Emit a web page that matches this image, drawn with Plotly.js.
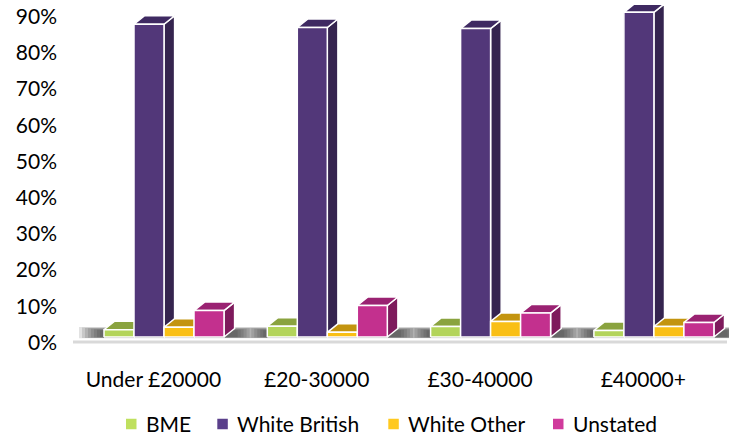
<!DOCTYPE html>
<html>
<head>
<meta charset="utf-8">
<script src="https://cdn.plot.ly/plotly-3.0.1.min.js"></script>
<style>html,body{margin:0;padding:0;background:#fff}#chart{width:731px;height:438px}</style>
</head>
<body>
<div id="chart"></div>
<script>
// ---- data (percent) ----
const categories = ['Under £20000', '£20-30000', '£30-40000', '£40000+'];
const seriesNames = ['BME', 'White British', 'White Other', 'Unstated'];
const bme = [2.0, 3.0, 2.9, 1.8];
const whiteBritish = [86.4, 85.5, 85.2, 89.7];
const whiteOther = [2.7, 1.3, 4.3, 2.9];
const unstated = [7.3, 8.7, 6.6, 4.0];
const yTickVals = [0, 10, 20, 30, 40, 50, 60, 70, 80, 90];
const yTickText = ['0%', '10%', '20%', '30%', '40%', '50%', '60%', '70%', '80%', '90%'];

// ---- styling ----
const frontColors = ['#B3D45A', '#523779', '#F9BF15', '#C3308E'];
const topColors = ['#8AA33F', '#3F2A62', '#C3940F', '#9A2272'];
const sideColors = ['#7C9436', '#35244F', '#A67C0C', '#7E1A5C'];
const legendColors = ['#BFE05E', '#5A3F8B', '#FFC91F', '#D03A9C'];
const FONT = 'Lato, "Open Sans", sans-serif';

// geometry (pixel based constants converted to axis units)
const W_PX = 731, H_PX = 438;
const M = {l: 58, r: 2, t: 5, b: 83};
const plotW = W_PX - M.l - M.r, plotH = H_PX - M.t - M.b;
const PX_PER_CAT = 163.3;      // px per category
const PX_PER_PCT = 3.62;       // px per 1%
const cat0Px = 153.4;          // pixel x of first category
const zeroPx = 345.5;          // pixel y of 0%
const xr0 = (M.l - cat0Px) / PX_PER_CAT;
const xRange = [xr0, xr0 + plotW / PX_PER_CAT];
const yr0 = -((M.t + plotH) - zeroPx) / PX_PER_PCT;
const yRange = [yr0, yr0 + plotH / PX_PER_PCT];

const DX = 10.6 / PX_PER_CAT;  // depth step in x units
const DY = 8.5 / PX_PER_PCT;   // depth step in y units
const BW = 30 / PX_PER_CAT;    // bar width
const Z0 = 1, Z1 = 2;          // bar depth span

function proj(x, y, z) { return [x + z * DX, y + z * DY]; }

const allSeries = [bme, whiteBritish, whiteOther, unstated];
const traces = [];

// base bar traces (sit exactly under the front faces)
allSeries.forEach((vals, s) => {
  traces.push({
    type: 'bar', name: seriesNames[s], showlegend: false,
    x: categories.map((c, k) => k),
    y: vals,
    base: Z0 * DY,
    width: BW,
    offset: -2 * BW + s * BW + Z0 * DX,
    marker: {color: frontColors[s], line: {width: 0}},
    hoverinfo: 'skip'
  });
});

function polyTrace(polys, fill, lineColor, lineWidth) {
  const xs = [], ys = [];
  polys.forEach(p => {
    p.forEach(pt => { xs.push(pt[0]); ys.push(pt[1]); });
    xs.push(p[0][0]); ys.push(p[0][1]);
    xs.push(null); ys.push(null);
  });
  return {
    type: 'scatter', mode: 'lines', x: xs, y: ys, fill: 'toself',
    fillcolor: fill, line: {color: lineColor, width: lineWidth},
    showlegend: false, hoverinfo: 'skip'
  };
}

// floor shadow under each group: stacked translucent bands (soft edges)
const nLayers = 8;
for (let i = 0; i < nLayers; i++) {
  const polys = categories.map((c, k) => {
    const xa = k - 2 * BW + Z0 * DX - (25 - i * 3) / PX_PER_CAT;
    const xb = k + 2 * BW + Z1 * DX + (24 - i * 3) / PX_PER_CAT;
    const yA = Z0 * DY - (1.2 - i * 0.15) / PX_PER_PCT;
    const yB = Z1 * DY + (1.5 - i * 0.45) / PX_PER_PCT;
    return [[xa, yA], [xb, yA], [xb, yB], [xa, yB]];
  });
  traces.push(polyTrace(polys, 'rgba(30,30,30,0.13)', 'rgba(0,0,0,0)', 0));
}

// 3D faces, drawn left to right so later bars hide earlier sides/tops
allSeries.forEach((vals, s) => {
  const sides = [], tops = [], fronts = [];
  vals.forEach((v, k) => {
    const x0 = k - 2 * BW + s * BW, x1 = x0 + BW;
    sides.push([proj(x1, 0, Z0), proj(x1, 0, Z1), proj(x1, v, Z1), proj(x1, v, Z0)]);
    tops.push([proj(x0, v, Z0), proj(x1, v, Z0), proj(x1, v, Z1), proj(x0, v, Z1)]);
    fronts.push([proj(x0, 0, Z0), proj(x1, 0, Z0), proj(x1, v, Z0), proj(x0, v, Z0)]);
  });
  traces.push(polyTrace(sides, sideColors[s], '#ffffff', 1.5));
  traces.push(polyTrace(tops, topColors[s], '#ffffff', 1.5));
  traces.push(polyTrace(fronts, frontColors[s], '#ffffff', 1.5));
});

// floor front edge line (pixel constants -> axis units)
const floorY = (zeroPx - 342) / PX_PER_PCT;
const floorX0 = xr0 + (73 - M.l) / PX_PER_CAT;
const floorX1 = xr0 + (727 - M.l) / PX_PER_CAT;

// custom legend (pixel positions -> paper units)
const legendSqPx = [126, 217.3, 388.3, 553];
const legendYPx = 424, sq = 10.5;
const pxX = px => (px - M.l) / plotW;
const pxY = py => (M.t + plotH - py) / plotH;
const shapes = [{
  type: 'line', xref: 'x', yref: 'y', layer: 'below',
  x0: floorX0, x1: floorX1, y0: floorY, y1: floorY,
  line: {color: '#d9d9d9', width: 3}
}];
const annotations = [];
seriesNames.forEach((n, s) => {
  shapes.push({
    type: 'rect', xref: 'paper', yref: 'paper',
    x0: pxX(legendSqPx[s]), x1: pxX(legendSqPx[s] + sq),
    y0: pxY(legendYPx - sq / 2), y1: pxY(legendYPx + sq / 2),
    fillcolor: legendColors[s], line: {width: 0}
  });
  annotations.push({
    xref: 'paper', yref: 'paper', x: pxX(legendSqPx[s] + 18), y: pxY(legendYPx - 1),
    xanchor: 'left', yanchor: 'middle', showarrow: false, text: n,
    font: {family: FONT, size: 21, color: '#000000'}
  });
});

const layout = {
  width: W_PX, height: H_PX,
  margin: M,
  paper_bgcolor: '#ffffff', plot_bgcolor: '#ffffff',
  font: {family: FONT, size: 21, color: '#000000'},
  showlegend: false,
  barmode: 'overlay',
  xaxis: {
    range: xRange, fixedrange: true,
    tickmode: 'array', tickvals: categories.map((c, k) => k), ticktext: categories,
    showgrid: false, zeroline: false, showline: false, ticks: '',
    ticklabelstandoff: 10,
    tickfont: {family: FONT, size: 21, color: '#000000'}
  },
  yaxis: {
    range: yRange, fixedrange: true,
    tickmode: 'array', tickvals: yTickVals, ticktext: yTickText,
    showgrid: false, zeroline: false, showline: false, ticks: '',
    ticklabelshift: -3,
    tickfont: {family: FONT, size: 21, color: '#000000'}
  },
  shapes: shapes,
  annotations: annotations
};

Plotly.newPlot('chart', traces, layout, {displayModeBar: false, staticPlot: true});
</script>
</body>
</html>
